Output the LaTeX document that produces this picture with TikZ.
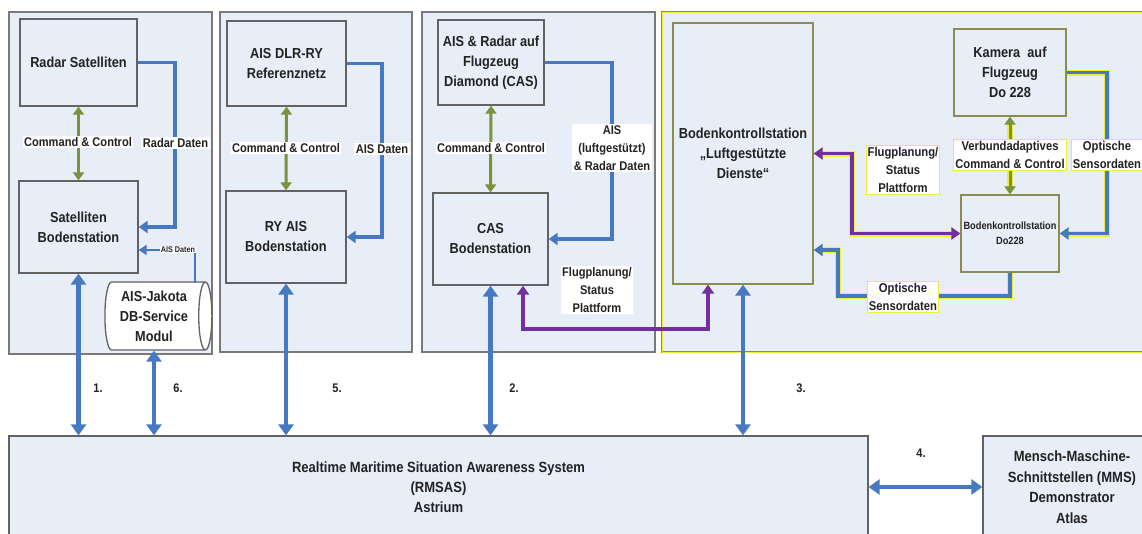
\documentclass[tikz,border=0pt]{standalone}
\usepackage{fontspec}
\setmainfont{Liberation Sans}[FakeStretch=0.88]
\usetikzlibrary{arrows.meta,shapes.geometric}
\definecolor{pfill}{HTML}{E8EEF7}
\definecolor{pborder}{HTML}{7A7A7A}
\definecolor{ablue}{HTML}{4679C2}
\definecolor{agreen}{HTML}{77933C}
\definecolor{apurple}{HTML}{7030A0}
\definecolor{yb}{HTML}{F0EC3C}
\definecolor{olivebd}{HTML}{8C8C50}
\definecolor{txt}{HTML}{222222}
\begin{document}
\begin{tikzpicture}[x=1pt,y=-1pt,
  panel/.style={draw=pborder, line width=1.2pt, fill=pfill, inner sep=0pt},
  ypanel/.style={draw=olivebd, line width=1.2pt, fill=pfill, inner sep=0pt,
     postaction={draw=yb, line width=0.8pt}},
  box/.style={draw=pborder!80!black, line width=1.3pt, fill=pfill, align=center, inner sep=2pt,
     text=txt, font=\bfseries\fontsize{14.5}{20}\selectfont},
  obox/.style={box, draw=olivebd},
  lbl/.style={fill=white, align=center, inner sep=1.5pt, text=txt,
     font=\bfseries\fontsize{12.6}{18}\selectfont},
  ylbl/.style={lbl, draw=yb, line width=1.2pt, font=\bfseries\fontsize{12.8}{18}\selectfont},
  num/.style={text=txt, font=\bfseries\fontsize{12.5}{13}\selectfont},
  bl/.style={draw=ablue, line width=3.5pt, -{Triangle[length=9pt,width=12pt]}},
  blsmall/.style={draw=ablue, line width=2.5pt, -{Triangle[length=8pt,width=10pt]}},
  bbig/.style={draw=ablue, line width=4.5pt, {Triangle[length=11pt,width=15pt]}-{Triangle[length=11pt,width=15pt]}},
  gr/.style={draw=agreen, line width=3pt, {Triangle[length=8pt,width=11pt]}-{Triangle[length=8pt,width=11pt]}},
  pu/.style={draw=apurple, line width=3.5pt, {Triangle[length=9pt,width=12pt]}-{Triangle[length=9pt,width=12pt]}},
  yo/.style={preaction={draw=yb, line width=6pt}}
]
\useasboundingbox (0,0) rectangle (1142,533);
\clip (0,0) rectangle (1142,533);
\fill[white] (0,0) rectangle (1142,533);

% panels
\node[panel, minimum width=203, minimum height=342] (p1) at (110.5,183) {};
\node[panel, minimum width=192, minimum height=340] (p2) at (316,182) {};
\node[panel, minimum width=233, minimum height=340] (p3) at (538.5,182) {};
\node[ypanel, minimum width=498, minimum height=340] (p4) at (911,182) {};

% panel 1
\node[box, minimum width=117, minimum height=87] (rs) at (78.5,62.5) {Radar Satelliten};
\node[box, minimum width=119, minimum height=92] (sb) at (78.5,227) {Satelliten\\Bodenstation};
\node[box, shape=cylinder, aspect=0.25, fill=white, inner sep=1pt, minimum width=68, minimum height=107] (db) at (154,316) {AIS-Jakota\\DB-Service\\Modul};
\draw[gr] (rs.south) -- (sb.north);
\node[lbl] (cc1) at (78,142) {Command \& Control};
\coordinate (c1) at (175,227);
\draw[bl] (rs.east) -| (c1) -- (sb.east);
\node[lbl] (rd) at (175.5,143) {Radar Daten};
\coordinate (c6a) at (195,283);
\coordinate (c6b) at (195,250);
\draw[blsmall] (c6a) -- (c6b) -- (sb.east |- c6b);
\node[fill=white, inner sep=0.5pt, text=txt, font=\bfseries\fontsize{8.2}{9}\selectfont] (aisd) at (178,250) {AIS Daten};

% panel 2
\node[box, minimum width=119, minimum height=85] (ad) at (286.5,63.5) {AIS DLR-RY\\Referenznetz};
\node[box, minimum width=120, minimum height=92] (ry) at (286,237) {RY AIS\\Bodenstation};
\draw[gr] (ad.south) -- (ry.north);
\node[lbl] (cc2) at (286,148) {Command \& Control};
\coordinate (c2) at (382,237);
\draw[bl] (ad.east) -| (c2) -- (ry.east);
\node[lbl] (aisd2) at (382,149) {AIS Daten};

% panel 3
\node[box, minimum width=106, minimum height=85] (ar) at (491,62.5) {AIS \& Radar auf\\Flugzeug\\Diamond (CAS)};
\node[box, minimum width=115, minimum height=92] (cas) at (490.5,239) {CAS\\Bodenstation};
\draw[gr] (ar.south) -- (cas.north);
\node[lbl] (cc3) at (491,148) {Command \& Control};
\coordinate (c3) at (612,239);
\draw[bl] (ar.east) -| (c3) -- (cas.east);
\node[lbl] (ard) at (612,148) {AIS\\(luftgestützt)\\\& Radar Daten};
\node[lbl] (fp1) at (597,290) {Flugplanung/\\Status\\Plattform};

% panel 4
\node[obox, minimum width=140, minimum height=261] (bk) at (743,153.5) {Bodenkontrollstation\\„Luftgestützte\\Dienste“};
\node[obox, minimum width=112, minimum height=87] (km) at (1010,72.5) {Kamera\ \ auf\\Flugzeug\\Do 228};
\node[obox, minimum width=98, minimum height=77, font=\bfseries\fontsize{10.5}{15}\selectfont] (do) at (1010,233.5) {Bodenkontrollstation\\Do228};
\draw[gr, yo] (km.south) -- (do.north);
\node[ylbl] (vcc) at (1010,155) {Verbundadaptives\\Command \& Control};
\coordinate (c4) at (1107,233.5);
\draw[bl, yo] (km.east) -| (c4) -- (do.east);
\node[ylbl] (os1) at (1107,155) {Optische\\Sensordaten};
\coordinate (c5a) at (852,153.5);
\coordinate (c5b) at (852,233.5);
\draw[pu, yo] (bk.east) -- (c5a) -- (c5b) -- (do.west);
\node[ylbl] (fp2) at (903,170) {Flugplanung/\\Status\\Plattform};
\coordinate (c7a) at (1010,296);
\coordinate (c7b) at (838,296);
\coordinate (c7c) at (838,250);
\draw[bl, yo] (do.south) -- (c7a) -- (c7b) -- (c7c) -- (bk.east |- c7c);
\node[ylbl] (os2) at (903,297) {Optische\\Sensordaten};

% purple from CAS to Bodenkontrollstation
\coordinate (q1) at (523,329);
\coordinate (q2) at (708,329);
\draw[pu] (cas.south -| q1) -- (q1) -- (q2) -- (bk.south -| q2);

% bottom
\node[box, minimum width=859, minimum height=102, font=\bfseries\fontsize{14.8}{20}\selectfont] (rm) at (438.5,487) {Realtime Maritime Situation Awareness System\\(RMSAS)\\Astrium};
\node[box, minimum width=178, minimum height=102, font=\bfseries\fontsize{14.8}{20.5}\selectfont] (mm) at (1072,487) {Mensch-Maschine-\\Schnittstellen (MMS)\\Demonstrator\\Atlas};

\draw[bbig] (sb.south) -- (sb.south |- rm.north);
\draw[bbig] (db.south) -- (db.south |- rm.north);
\draw[bbig] (ry.south) -- (ry.south |- rm.north);
\draw[bbig] (cas.south) -- (cas.south |- rm.north);
\draw[bbig] (bk.south) -- (bk.south |- rm.north);
\draw[bbig] (rm.east) -- (mm.west);

\node[num] (n1) at (98,388) {1.};
\node[num] (n6) at (178,388) {6.};
\node[num] (n5) at (337,388) {5.};
\node[num] (n2) at (514,388) {2.};
\node[num] (n3) at (801,388) {3.};
\node[num] (n4) at (921,453) {4.};
\end{tikzpicture}
\end{document}
